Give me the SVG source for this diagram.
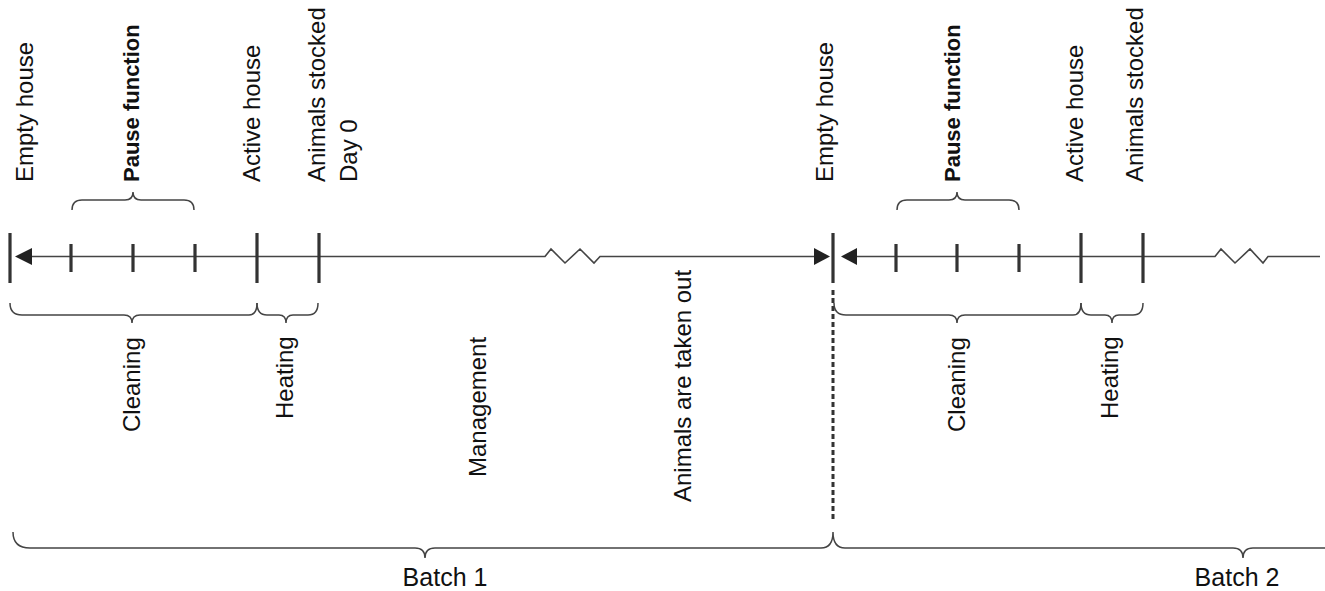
<svg xmlns="http://www.w3.org/2000/svg" width="1325" height="591" viewBox="0 0 1325 591">
<style>
.lbl{font-family:"Liberation Sans",Arial,sans-serif;font-size:24px;fill:#111}
.b{font-weight:bold;font-size:22px}
.bt{font-size:25px}
.ax{stroke:#444;stroke-width:1.6;fill:none}
.tk{stroke:#333;stroke-width:3.2;fill:none}
.br{stroke:#444;stroke-width:1.5;fill:none}
.ar{fill:#222}
.dash{stroke:#333;stroke-width:3;stroke-dasharray:5 3;fill:none}
</style>
<rect width="1325" height="591" fill="#ffffff"/>
<g id="connectors">
<path class="ax" d="M30,256.5 H545 L551,249 L565,263 L580,249 L594,263 L600,256.5 H816"/>
<path class="ax" d="M856,256.5 H1215 L1221,249 L1235,263 L1250,249 L1263,263 L1268,256.5 H1320"/>
<polygon class="ar" points="15,256.5 32,248 32,265"/>
<polygon class="ar" points="830,256.5 814,248 814,265"/>
<polygon class="ar" points="841,256.5 857,248 857,265"/>
<line class="dash" x1="833" y1="290" x2="833" y2="520"/>
</g>
<g id="ticks">
<line class="tk" x1="10" y1="233" x2="10" y2="283"/>
<line class="tk" x1="71" y1="244" x2="71" y2="272"/>
<line class="tk" x1="133" y1="244" x2="133" y2="272"/>
<line class="tk" x1="195" y1="244" x2="195" y2="272"/>
<line class="tk" x1="257" y1="233" x2="257" y2="283"/>
<line class="tk" x1="319" y1="233" x2="319" y2="283"/>
<line class="tk" x1="833" y1="233" x2="833" y2="283"/>
<line class="tk" x1="896" y1="244" x2="896" y2="272"/>
<line class="tk" x1="957" y1="244" x2="957" y2="272"/>
<line class="tk" x1="1019" y1="244" x2="1019" y2="272"/>
<line class="tk" x1="1081" y1="233" x2="1081" y2="283"/>
<line class="tk" x1="1143" y1="233" x2="1143" y2="283"/>
</g>
<g id="braces">
<path class="br" d="M72,210 Q72,200 82,200 H125 Q133,200 133,192 Q133,200 141,200 H184 Q194,200 194,210"/>
<path class="br" d="M897,210 Q897,200 907,200 H949 Q957,200 957,192 Q957,200 965,200 H1009 Q1019,200 1019,210"/>
<path class="br" d="M10,303 Q10,315 22,315 H124 Q132,315 132,323 Q132,315 140,315 H249 Q257,315 257,303"/>
<path class="br" d="M257,303 Q257,315 267,315 H279 Q286,315 286,323 Q286,315 293,315 H308 Q318,315 318,303"/>
<path class="br" d="M834,303 Q834,315 846,315 H949 Q957,315 957,323 Q957,315 965,315 H1073 Q1081,315 1081,303"/>
<path class="br" d="M1081,303 Q1081,315 1091,315 H1105 Q1112,315 1112,323 Q1112,315 1119,315 H1133 Q1143,315 1143,303"/>
<path class="br" d="M13,532 Q13,548 30,548 H415 Q425,548 425,558 Q425,548 435,548 H821 Q833,548 833,532 Q833,548 845,548 H1233 Q1243,548 1243,558 Q1243,548 1253,548 H1325"/>
</g>
<g id="top-labels">
<text class="lbl" transform="translate(33,182) rotate(-90)">Empty house</text>
<text class="lbl b" transform="translate(139,182) rotate(-90)">Pause function</text>
<text class="lbl" transform="translate(260,182) rotate(-90)">Active house</text>
<text class="lbl" transform="translate(325,182) rotate(-90)">Animals stocked</text>
<text class="lbl" transform="translate(357,182) rotate(-90)">Day 0</text>
<text class="lbl" transform="translate(833,182) rotate(-90)">Empty house</text>
<text class="lbl b" transform="translate(960,182) rotate(-90)">Pause function</text>
<text class="lbl" transform="translate(1083,182) rotate(-90)">Active house</text>
<text class="lbl" transform="translate(1143,182) rotate(-90)">Animals stocked</text>
</g>
<g id="bottom-labels">
<text class="lbl" transform="translate(140,432) rotate(-90)">Cleaning</text>
<text class="lbl" transform="translate(293,419) rotate(-90)">Heating</text>
<text class="lbl" transform="translate(486,477) rotate(-90)">Management</text>
<text class="lbl" transform="translate(691,502) rotate(-90)">Animals are taken out</text>
<text class="lbl" transform="translate(965,432) rotate(-90)">Cleaning</text>
<text class="lbl" transform="translate(1118,419) rotate(-90)">Heating</text>
<text class="lbl bt" x="445" y="586" text-anchor="middle">Batch 1</text>
<text class="lbl bt" x="1237" y="586" text-anchor="middle">Batch 2</text>
</g>
</svg>
